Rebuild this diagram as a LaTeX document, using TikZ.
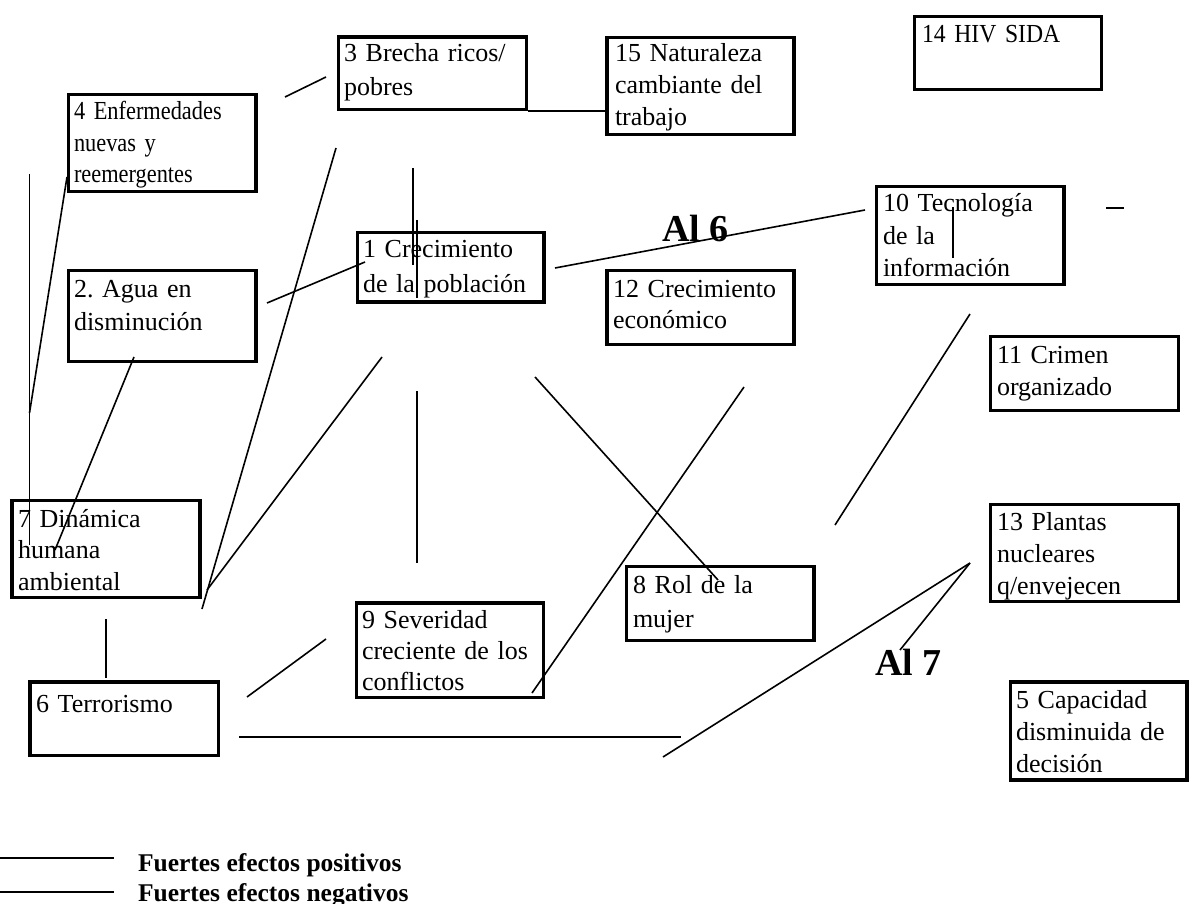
\documentclass[tikz,border=0pt]{standalone}
\usepackage{fontspec}
\setmainfont{Liberation Serif}
\newfontfamily\condfont[FakeStretch=0.86]{Liberation Serif}
\newfontfamily\semicondfont[FakeStretch=0.91]{Liberation Serif}
\frenchspacing
\tikzset{
  box/.style={draw, line width=3.2pt, inner sep=0pt, outer sep=0pt, anchor=north west},
  conn/.style={line width=1.6pt},
  txt/.style={inner sep=0pt, outer sep=0pt, anchor=base west, align=left, text width=230pt},
  bigtxt/.style={inner sep=0pt, outer sep=0pt, anchor=base west, font=\bfseries\fontsize{38}{40}\selectfont},
  legtxt/.style={inner sep=0pt, outer sep=0pt, anchor=base west, font=\bfseries\fontsize{25.5}{28}\selectfont},
}
\newcommand\mkbox[5]{\node[box, minimum width={(#4)-(#2)}, minimum height={(#5)-(#3)}] (#1) at (#2,#3) {};}
\newcommand\mktext[5]{\node[txt, font=\fontsize{26}{#4}\selectfont] (#1) at (#2,#3) {#5};}
\begin{document}
\begin{tikzpicture}[x=1pt,y=-1pt]
\useasboundingbox (0,0) rectangle (1189,904);
% boxes
\mkbox{b3}{338.5}{37}{526.5}{109.5}
\mkbox{b15}{607}{37.5}{794}{134.5}
\mkbox{b14}{914.5}{16.5}{1101.5}{89.5}
\mkbox{b4}{68.5}{94.5}{256}{191.5}
\mkbox{b2}{68.5}{270.5}{256}{361.5}
\mkbox{b1}{357.5}{232.5}{544}{302}
\mkbox{b12}{607}{270.5}{794}{344.5}
\mkbox{b10}{876.5}{186.5}{1064}{284.5}
\mkbox{b11}{990.5}{336.5}{1178.5}{410.5}
\mkbox{b7}{12}{500.5}{200}{597.5}
\mkbox{b13}{990.5}{504.5}{1178.5}{601.5}
\mkbox{b8}{626.5}{566.5}{814}{640.5}
\mkbox{b9}{356.5}{603}{543.5}{697.5}
\mkbox{b6}{30}{682}{218.5}{755.5}
\mkbox{b5}{1010.5}{682}{1187}{780}
% texts
\mktext{t3}{344}{62}{34}{3 Brecha ricos/\\pobres}
\mktext{t15}{615}{62}{32}{15 Naturaleza\\cambiante del\\trabajo}
\node[txt, font=\semicondfont\fontsize{26}{32}\selectfont] (t14) at (922,43) {14 HIV SIDA};
\node[txt, font=\condfont\fontsize{26}{31.5}\selectfont] (t4) at (74,120) {4 Enfermedades\\nuevas y\\reemergentes};
\mktext{t2}{74}{297}{33}{2. Agua en\\disminución}
\mktext{t1}{363}{258}{34.5}{1 Crecimiento\\de la población}
\mktext{t12}{613}{297}{32}{12 Crecimiento\\económico}
\mktext{t10}{883}{212}{32.5}{10 Tecnología\\de la\\información}
\mktext{t11}{997}{363}{32}{11 Crimen\\organizado}
\mktext{t7}{18}{527}{31.5}{7 Dinámica\\humana\\ambiental}
\mktext{t13}{997}{530}{32}{13 Plantas\\nucleares\\q/envejecen}
\mktext{t8}{633}{593}{34}{8 Rol de la\\mujer}
\mktext{t9}{362}{628}{31}{9 Severidad\\creciente de los\\conflictos}
\mktext{t6}{36}{712}{32}{6 Terrorismo}
\mktext{t5}{1016}{708}{32}{5 Capacidad\\disminuida de\\decisión}
\node[bigtxt] (al6) at (662,242) {Al 6};
\node[bigtxt] (al7) at (875,675) {Al 7};
% connector end points
\coordinate (c1a) at (285,97);   \coordinate (c1b) at (326,77);
\coordinate (c2a) at (528,111);  \coordinate (c2b) at (605,111);
\coordinate (c3a) at (29.5,174); \coordinate (c3b) at (29.5,545);
\coordinate (c4a) at (67,177);   \coordinate (c4b) at (29.5,413);
\coordinate (c5a) at (336,148);  \coordinate (c5b) at (202,609);
\coordinate (c6a) at (413,168);  \coordinate (c6b) at (413,265);
\coordinate (c7a) at (417,220);  \coordinate (c7b) at (417,298);
\coordinate (c8a) at (267,303);  \coordinate (c8b) at (365,262);
\coordinate (c9a) at (555,268);  \coordinate (c9b) at (865,210);
\coordinate (c10a) at (134,357); \coordinate (c10b) at (55,550);
\coordinate (c11a) at (382,357); \coordinate (c11b) at (207,590);
\coordinate (c12a) at (417,391); \coordinate (c12b) at (417,563);
\coordinate (c13a) at (535,377); \coordinate (c13b) at (718,580);
\coordinate (c14a) at (970,314); \coordinate (c14b) at (835,525);
\coordinate (c15a) at (744,387); \coordinate (c15b) at (532,693);
\coordinate (c16a) at (953,207); \coordinate (c16b) at (953,258);
\coordinate (c17a) at (1106,208);\coordinate (c17b) at (1124,208);
\coordinate (c18a) at (970,563); \coordinate (c18b) at (663,757);
\coordinate (c19b) at (900,650);
\coordinate (c20a) at (239,737); \coordinate (c20b) at (681,737);
\coordinate (c21a) at (106,619); \coordinate (c21b) at (106,678);
\coordinate (c22a) at (247,697); \coordinate (c22b) at (326,639);
\coordinate (l1a) at (0,858);    \coordinate (l1b) at (114,858);
\coordinate (l2a) at (0,892);    \coordinate (l2b) at (114,892);
% connectors
\draw[conn] (c1a) -- (c1b);
\draw[conn] (c2a) -- (c2b);
\draw[conn] (c3a) -- (c3b);
\draw[conn] (c4a) -- (c4b);
\draw[conn] (c5a) -- (c5b);
\draw[conn] (c6a) -- (c6b);
\draw[conn] (c7a) -- (c7b);
\draw[conn] (c8a) -- (c8b);
\draw[conn] (c9a) -- (c9b);
\draw[conn] (c10a) -- (c10b);
\draw[conn] (c11a) -- (c11b);
\draw[conn] (c12a) -- (c12b);
\draw[conn] (c13a) -- (c13b);
\draw[conn] (c14a) -- (c14b);
\draw[conn] (c15a) -- (c15b);
\draw[conn] (c16a) -- (c16b);
\draw[conn] (c17a) -- (c17b);
\draw[conn] (c18a) -- (c18b);
\draw[conn] (c18a) -- (c19b);
\draw[conn] (c20a) -- (c20b);
\draw[conn] (c21a) -- (c21b);
\draw[conn] (c22a) -- (c22b);
% legend
\draw[conn] (l1a) -- (l1b);
\draw[conn] (l2a) -- (l2b);
\node[legtxt] (lg1) at (138,871) {Fuertes efectos positivos};
\node[legtxt] (lg2) at (138,901.5) {Fuertes efectos negativos};
\end{tikzpicture}
\end{document}
